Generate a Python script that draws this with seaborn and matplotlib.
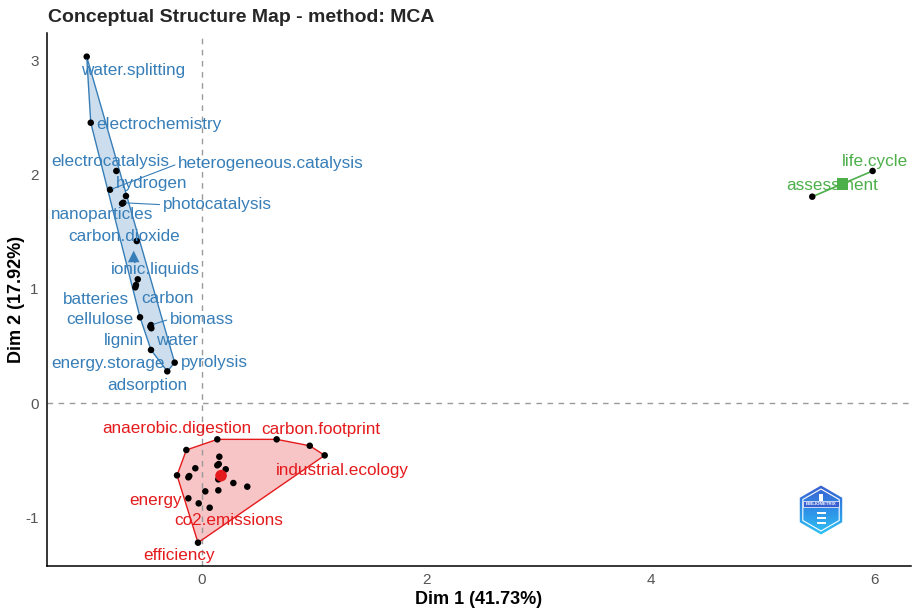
import numpy as np
import pandas as pd
import matplotlib
matplotlib.use("Agg")
import matplotlib.pyplot as plt
from matplotlib.patches import Polygon, RegularPolygon
from matplotlib.colors import LinearSegmentedColormap
import seaborn as sns

# ---- MCA word coordinates, one block per cluster ----
blue_words = ["water.splitting", "electrochemistry", "electrocatalysis",
              "heterogeneous.catalysis", "hydrogen", "photocatalysis",
              "nanoparticles", "carbon.dioxide", "ionic.liquids", "batteries",
              "carbon", "cellulose", "biomass", "lignin", "water",
              "energy.storage", "pyrolysis", "adsorption"]
blue_dim1 = [-1.025, -0.989, -0.761, -0.817, -0.675, -0.699, -0.710, -0.579,
             -0.570, -0.586, -0.592, -0.550, -0.452, -0.458, -0.449, -0.452,
             -0.241, -0.307]
blue_dim2 = [3.030, 2.452, 2.030, 1.866, 1.811, 1.752, 1.744, 1.417, 1.082,
             1.032, 1.012, 0.750, 0.682, 0.668, 0.654, 0.464, 0.353, 0.277]

red_words = ["", "anaerobic.digestion", "carbon.footprint", "", "industrial.ecology",
             "", "", "", "", "", "", "", "", "", "", "", "", "",
             "energy", "", "co2.emissions", "efficiency"]
red_dim1 = [0.139, -0.137, 0.668, 0.963, 1.096, 0.157, 0.152, 0.139, -0.057,
            0.214, -0.220, -0.111, -0.119, 0.148, 0.282, 0.406, 0.032, 0.148,
            -0.119, -0.027, 0.071, -0.033]
red_dim2 = [-0.318, -0.411, -0.318, -0.374, -0.458, -0.470, -0.534, -0.545,
            -0.571, -0.580, -0.633, -0.639, -0.650, -0.668, -0.700, -0.732,
            -0.773, -0.764, -0.834, -0.878, -0.916, -1.222]

green_words = ["assessment", "life.cycle"]
green_dim1 = [5.442, 5.980]
green_dim2 = [1.805, 2.030]

dim1_label = "Dim 1 (41.73%)"
dim2_label = "Dim 2 (17.92%)"
title = "Conceptual Structure Map - method: MCA"
x_ticks = [0, 2, 4, 6]
y_ticks = [-1, 0, 1, 2, 3]

# ---- label placement (offsets from each point, in pixels) ----
label_offset_px = {
    "water.splitting": (46, -14), "electrochemistry": (68, -2),
    "electrocatalysis": (-6, 9), "heterogeneous.catalysis": (161, 26),
    "hydrogen": (26, 12), "photocatalysis": (94, -2),
    "nanoparticles": (-20, -11), "carbon.dioxide": (-13, 5),
    "ionic.liquids": (18, 10), "batteries": (-40, -14), "carbon": (32, -11),
    "cellulose": (-40, -2), "biomass": (51, 6), "lignin": (-26, -14),
    "water": (26, -12), "energy.storage": (-43, -14), "pyrolysis": (40, 0),
    "adsorption": (-20, -14),
    "anaerobic.digestion": (-10, 21), "carbon.footprint": (44, 10),
    "industrial.ecology": (18, -15), "energy": (-33, -2),
    "co2.emissions": (19, -13), "efficiency": (-19, -13),
    "assessment": (20, 11), "life.cycle": (2, 9),
}
# segment start, relative to the label box
with_segment = {"water.splitting": (0.05, 0.9),
                "heterogeneous.catalysis": (0.0, 0.5),
                "photocatalysis": (0.0, 0.5),
                "biomass": (0.0, 0.5)}

BLUE, RED, GREEN = "#377EB8", "#E41A1C", "#4DAF4A"

sns.set_theme(style="white")
plt.rcParams["font.family"] = ["Liberation Sans", "DejaVu Sans"]

fig = plt.figure(figsize=(9.14, 6.10), dpi=100)
ax = fig.add_axes([47 / 914, 44 / 610, 864 / 914, 533 / 610])

clusters = [
    (blue_words, blue_dim1, blue_dim2, BLUE, "^"),
    (red_words, red_dim1, red_dim2, RED, "o"),
    (green_words, green_dim1, green_dim2, GREEN, "s"),
]


def convex_hull(pts):
    pts = sorted(set(map(tuple, pts)))
    if len(pts) <= 2:
        return pts

    def cross(o, a, b):
        return (a[0] - o[0]) * (b[1] - o[1]) - (a[1] - o[1]) * (b[0] - o[0])

    lower, upper = [], []
    for p in pts:
        while len(lower) >= 2 and cross(lower[-2], lower[-1], p) <= 0:
            lower.pop()
        lower.append(p)
    for p in reversed(pts):
        while len(upper) >= 2 and cross(upper[-2], upper[-1], p) <= 0:
            upper.pop()
        upper.append(p)
    return lower[:-1] + upper[:-1]


# hulls
for words, d1, d2, col, _ in clusters:
    hull = convex_hull(list(zip(d1, d2)))
    if len(hull) > 2:
        ax.add_patch(Polygon(hull, closed=True, facecolor=col, alpha=0.25,
                             edgecolor="none", zorder=1))
        ax.add_patch(Polygon(hull, closed=True, facecolor="none",
                             edgecolor=col, lw=1.0, zorder=2))
    else:
        hx, hy = zip(*hull)
        ax.plot(hx, hy, color=col, lw=1.2, zorder=2)

# reference lines
ax.axhline(0, color="#9a9a9a", lw=1.0, ls=(0, (4, 4)), zorder=1.5)
ax.axvline(0, color="#9a9a9a", lw=1.0, ls=(0, (4, 4)), zorder=1.5)

# points and centroids
for words, d1, d2, col, mk in clusters:
    df = pd.DataFrame({"Dim1": d1, "Dim2": d2})
    sns.scatterplot(data=df, x="Dim1", y="Dim2", color="black", s=22,
                    edgecolor="none", ax=ax, zorder=4)
    cen = df.mean()
    ax.scatter([cen["Dim1"]], [cen["Dim2"]], marker=mk, s=70, color=col,
               edgecolor="none", zorder=5)

# word labels
px2pt = 0.72
for words, d1, d2, col, _ in clusters:
    for w, x, y in zip(words, d1, d2):
        if not w:
            continue
        dx, dy = label_offset_px[w]
        kw = dict(xy=(x, y), xytext=(dx * px2pt, dy * px2pt),
                  textcoords="offset points", ha="center", va="center",
                  color=col, fontsize=12.3, zorder=6)
        if w in with_segment:
            kw["arrowprops"] = dict(arrowstyle="-", color=col, lw=0.8,
                                    shrinkA=0, shrinkB=2,
                                    relpos=with_segment[w])
        ax.annotate(w, **kw)

ax.set_xlim(-1.379, 6.322)
ax.set_ylim(-1.426, 3.237)
ax.set_xticks(x_ticks)
ax.set_yticks(y_ticks)
ax.set_xticklabels([str(t) for t in x_ticks])
ax.set_yticklabels([str(t) for t in y_ticks])
ax.tick_params(axis="both", length=0, labelsize=11, labelcolor="#555555")
ax.tick_params(axis="x", pad=5)
ax.tick_params(axis="y", pad=6)
ax.set_xlabel(dim1_label, fontsize=13, fontweight="bold", color="black",
              labelpad=3)
ax.set_ylabel(dim2_label, fontsize=13, fontweight="bold", color="black",
              labelpad=0)
for side in ("top", "right"):
    ax.spines[side].set_visible(False)
for side in ("left", "bottom"):
    ax.spines[side].set_color("black")
    ax.spines[side].set_linewidth(1.1)
ax.grid(False)

fig.text(48 / 914, 1 - 22 / 610, title, fontsize=14, fontweight="bold",
         ha="left", va="baseline")

# bibliometrix badge
lax = fig.add_axes([796 / 914, 75 / 610, 50 / 914, 50 / 610])
lax.set_xlim(-1, 1)
lax.set_ylim(-1, 1)
lax.axis("off")
hexagon = RegularPolygon((0, 0), numVertices=6, radius=0.98,
                         orientation=0, transform=lax.transData,
                         facecolor="none", edgecolor="none")
lax.add_patch(hexagon)
grad = np.linspace(0, 1, 100).reshape(-1, 1)
cmap = LinearSegmentedColormap.from_list("badge", ["#2ec4f4", "#2f8fe6", "#3a5fd0"])
img = lax.imshow(grad, extent=(-1, 1, -1, 1), origin="lower", cmap=cmap,
                 aspect="auto", zorder=1)
img.set_clip_path(hexagon)
lax.add_patch(RegularPolygon((0, 0), numVertices=6, radius=0.84, orientation=0,
                             facecolor="none", edgecolor="white", lw=0.8,
                             zorder=2))
lax.add_patch(plt.Rectangle((-0.72, 0.12), 1.44, 0.26, facecolor="#3a5fd0",
                            edgecolor="white", lw=0.5, zorder=3))
lax.text(0, 0.25, "BIBLIOMETRIX", color="white", fontsize=3.2,
         fontweight="bold", ha="center", va="center", zorder=4)
for yy in (-0.1, -0.3, -0.5):
    lax.add_patch(plt.Rectangle((-0.18, yy - 0.06), 0.36, 0.1,
                                facecolor="white", edgecolor="none", zorder=3))
lax.add_patch(plt.Rectangle((-0.08, 0.38), 0.16, 0.25, facecolor="white",
                            edgecolor="none", zorder=3))

fig.savefig("out.png", dpi=100)
